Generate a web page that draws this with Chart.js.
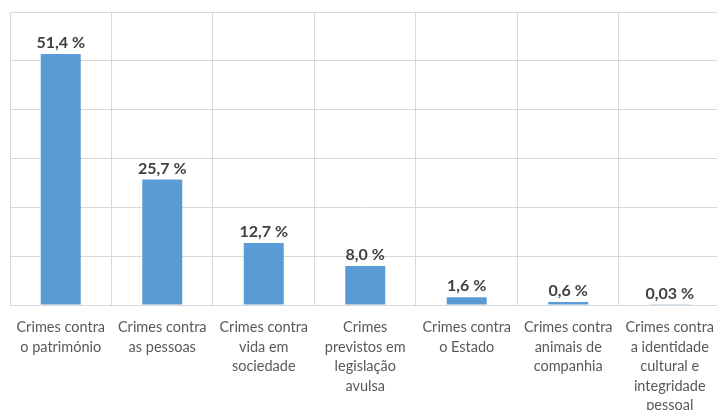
<!DOCTYPE html>
<html>
<head>
<meta charset="utf-8">
<script src="https://cdn.jsdelivr.net/npm/chart.js@4/dist/chart.umd.min.js"></script>
<style>
    html, body { margin: 0; padding: 0; overflow: hidden; background: #fff; }
    #wrap { width: 727px; height: 410px; }
</style>
</head>
<body>
<div id="wrap"><canvas id="chart"></canvas></div>
<script>
// categorias (quebradas como no original)
const categories = [
    ['Crimes contra', 'o património'],
    ['Crimes contra', 'as pessoas'],
    ['Crimes contra', 'vida em', 'sociedade'],
    ['Crimes', 'previstos em', 'legislação', 'avulsa'],
    ['Crimes contra', 'o Estado'],
    ['Crimes contra', 'animais de', 'companhia'],
    ['Crimes contra', 'a identidade', 'cultural e', 'integridade', 'pessoal']
];
const shares = [51.4, 25.7, 12.7, 8.0, 1.6, 0.6, 0.03];
const shareLabels = ['51,4 %', '25,7 %', '12,7 %', '8,0 %', '1,6 %', '0,6 %', '0,03 %'];

const fontFamily = 'Lato, "Open Sans", sans-serif';

// rótulos de valor por cima das barras
const valueLabels = {
    id: 'valueLabels',
    afterDatasetsDraw(chart) {
        const { ctx } = chart;
        const meta = chart.getDatasetMeta(0);
        ctx.save();
        ctx.font = 'bold 16px ' + fontFamily;
        ctx.fillStyle = '#404040';
        ctx.textAlign = 'center';
        ctx.textBaseline = 'bottom';
        meta.data.forEach((bar, i) => {
            ctx.fillText(shareLabels[i], bar.x, bar.y - 3);
        });
        ctx.restore();
    }
};

new Chart(document.getElementById('chart').getContext('2d'), {
    type: 'bar',
    data: {
        labels: categories,
        datasets: [{
            data: shares,
            backgroundColor: '#5b9bd5',
            borderWidth: 0,
            barPercentage: 0.394,
            categoryPercentage: 1
        }]
    },
    plugins: [valueLabels],
    options: {
        responsive: true,
        maintainAspectRatio: false,
        animation: false,
        layout: {
            padding: { left: 10, right: 0, top: 12, bottom: 0 }
        },
        plugins: {
            legend: { display: false },
            tooltip: { enabled: false }
        },
        scales: {
            x: {
                grid: {
                    color: '#d9d9d9',
                    lineWidth: 1,
                    drawTicks: false
                },
                border: { color: '#d9d9d9', width: 1 },
                ticks: {
                    color: '#595959',
                    padding: 13,
                    maxRotation: 0,
                    autoSkip: false,
                    font: { family: fontFamily, size: 14.5, lineHeight: 1.34 }
                },
                afterFit(scale) {
                    scale.height = 105;
                }
            },
            y: {
                min: 0,
                max: 60,
                ticks: { stepSize: 10, display: false },
                grid: {
                    color: '#d9d9d9',
                    lineWidth: 1,
                    drawTicks: false
                },
                border: { display: false }
            }
        }
    }
});
</script>
</body>
</html>
